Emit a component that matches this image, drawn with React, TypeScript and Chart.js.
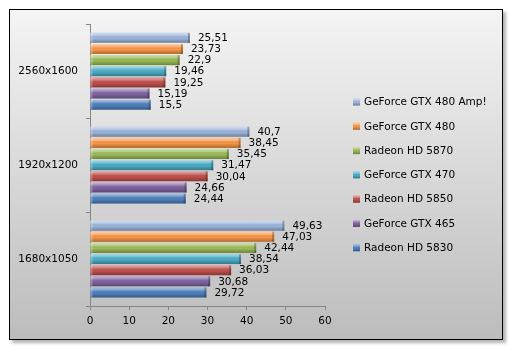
import React, { useEffect, useRef } from 'react';
import { Chart, registerables } from 'chart.js';
Chart.register(...registerables);

const categories = ['2560x1600', '1920x1200', '1680x1050'];
const seriesNames = [
  'GeForce GTX 480 Amp!',
  'GeForce GTX 480',
  'Radeon HD 5870',
  'GeForce GTX 470',
  'Radeon HD 5850',
  'GeForce GTX 465',
  'Radeon HD 5830',
];
const gtx480amp = [25.51, 40.7, 49.63];
const gtx480 = [23.73, 38.45, 47.03];
const hd5870 = [22.9, 35.45, 42.44];
const gtx470 = [19.46, 31.47, 38.54];
const hd5850 = [19.25, 30.04, 36.03];
const gtx465 = [15.19, 24.66, 30.68];
const hd5830 = [15.5, 24.44, 29.72];
const seriesValues = [gtx480amp, gtx480, hd5870, gtx470, hd5850, gtx465, hd5830];
const colors = ['#9db5dd', '#F79646', '#9BBB59', '#4BACC6', '#C0504D', '#8064A2', '#4F81BD'];
const xTicks = [0, 10, 20, 30, 40, 50, 60];

const FONT = '"DejaVu Sans", Verdana, sans-serif';

function shade(ctx: CanvasRenderingContext2D, left: number, top: number, w: number, h: number) {
  const g = ctx.createLinearGradient(0, top, 0, top + h);
  g.addColorStop(0, 'rgba(255,255,255,0.55)');
  g.addColorStop(0.3, 'rgba(255,255,255,0.2)');
  g.addColorStop(0.55, 'rgba(0,0,0,0)');
  g.addColorStop(1, 'rgba(0,0,0,0.3)');
  ctx.fillStyle = g;
  ctx.fillRect(left, top, w, h);
}

const barStyle = {
  id: 'barStyle',
  afterDatasetsDraw(chart: any) {
    const ctx: CanvasRenderingContext2D = chart.ctx;
    ctx.save();
    chart.data.datasets.forEach((ds: any, di: number) => {
      const meta = chart.getDatasetMeta(di);
      meta.data.forEach((bar: any, i: number) => {
        const { x, y, base, height } = bar.getProps(['x', 'y', 'base', 'height'], true);
        const top = y - height / 2;
        shade(ctx, base, top, x - base, height);
        // right-end bevel
        ctx.fillStyle = 'rgba(0,0,0,0.25)';
        ctx.fillRect(x - 2, top, 2, height);
        ctx.fillStyle = 'rgba(255,255,255,0.25)';
        ctx.fillRect(base, top, 2, height);
        // value label
        ctx.fillStyle = '#000';
        ctx.font = `10.5px ${FONT}`;
        ctx.textBaseline = 'middle';
        ctx.textAlign = 'left';
        ctx.fillText(String(ds.data[i]).replace('.', ','), x + 8, y + 0.5);
      });
    });
    ctx.restore();
  },
};

const legendPlugin = {
  id: 'customLegend',
  afterDraw(chart: any) {
    const ctx: CanvasRenderingContext2D = chart.ctx;
    ctx.save();
    chart.data.datasets.forEach((ds: any, di: number) => {
      const cy = 92 + di * 24.3;
      const mx = 343;
      ctx.fillStyle = ds.backgroundColor;
      ctx.fillRect(mx, cy - 3.5, 7, 7);
      shade(ctx, mx, cy - 3.5, 7, 7);
      ctx.fillStyle = '#000';
      ctx.font = `10.5px ${FONT}`;
      ctx.textBaseline = 'middle';
      ctx.textAlign = 'left';
      ctx.fillText(ds.label, 354, cy + 0.5);
    });
    ctx.restore();
  },
};

export default function App() {
  const ref = useRef<HTMLCanvasElement>(null);
  useEffect(() => {
    if (!ref.current) return;
    const chart = new Chart(ref.current, {
      type: 'bar',
      data: {
        labels: categories,
        datasets: seriesNames.map((name, i) => ({
          label: name,
          data: seriesValues[i],
          backgroundColor: colors[i],
          borderWidth: 0,
          categoryPercentage: 0.83,
          barPercentage: 0.9,
        })),
      },
      options: {
        indexAxis: 'y',
        animation: false,
        responsive: false,
        maintainAspectRatio: false,
        layout: { padding: { top: 13, right: 177, left: 0, bottom: 0 } },
        plugins: { legend: { display: false }, tooltip: { enabled: false } },
        scales: {
          x: {
            min: 0,
            max: 60,
            afterBuildTicks: (s: any) => {
              s.ticks = xTicks.map((v) => ({ value: v }));
            },
            afterFit: (s: any) => {
              s.height = 33;
            },
            grid: { drawOnChartArea: false, drawTicks: true, tickLength: 4, color: '#868686' },
            border: { color: '#868686' },
            ticks: { color: '#000', font: { family: FONT, size: 10.5 }, padding: 5, maxRotation: 0 },
          },
          y: {
            afterFit: (s: any) => {
              s.width = 80;
            },
            grid: { drawOnChartArea: false, drawTicks: true, tickLength: 4, color: '#868686', offset: true },
            border: { color: '#868686' },
            ticks: { color: '#000', font: { family: FONT, size: 10.5 }, padding: 8 },
          },
        },
      },
      plugins: [barStyle, legendPlugin],
    } as any);
    return () => chart.destroy();
  }, []);
  return (
    <div
      style={{
        position: 'absolute',
        left: 9,
        top: 9,
        width: 494,
        height: 331,
        boxSizing: 'border-box',
        border: '1px solid #000',
        boxShadow: '3px 3px 3px rgba(0,0,0,0.3)',
        background: 'linear-gradient(to bottom, #f4f4f4, #bcbcbc)',
      }}
    >
      <canvas ref={ref} width={492} height={329} style={{ display: 'block', width: 492, height: 329 }} />
    </div>
  );
}
